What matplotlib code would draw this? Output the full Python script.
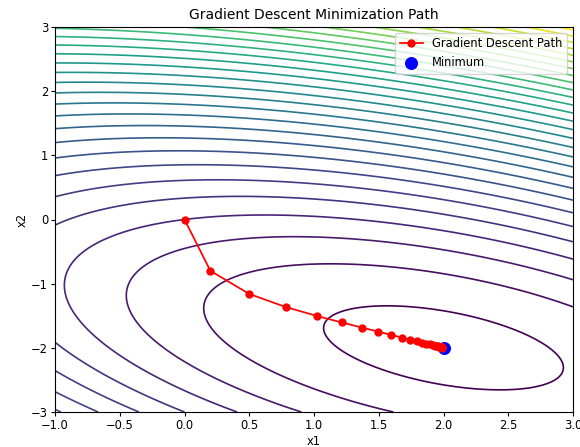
import numpy as np
import matplotlib

matplotlib.use("Agg")
import matplotlib.pyplot as plt

# Quadratic objective f(x) = 0.5 x^T A x - b^T x
A = [[3.0, 2.0], [2.0, 6.0]]
b = [2.0, -8.0]
contour_levels = list(range(-9, 76, 3))

# Gradient descent iterates
path_x1 = [0.0, 0.2, 0.5, 0.782, 1.020, 1.215, 1.371, 1.497, 1.597, 1.678, 1.742,
           1.794, 1.835, 1.868, 1.894, 1.916, 1.932, 1.946, 1.957, 1.965, 1.972,
           1.978, 1.982, 1.986, 1.989, 1.991]
path_x2 = [0.0, -0.8, -1.16, -1.364, -1.502, -1.605, -1.685, -1.748, -1.799, -1.839, -1.871,
           -1.897, -1.918, -1.934, -1.947, -1.958, -1.966, -1.973, -1.978, -1.983, -1.986,
           -1.989, -1.991, -1.993, -1.994, -1.995]
minimum = [2.0, -2.0]

x1 = np.linspace(-1, 3, 400)
x2 = np.linspace(-3, 3, 400)
X1, X2 = np.meshgrid(x1, x2)
Am = np.array(A)
Z = (0.5 * (Am[0, 0] * X1**2 + 2 * Am[0, 1] * X1 * X2 + Am[1, 1] * X2**2)
     - b[0] * X1 - b[1] * X2)

fig = plt.figure(figsize=(5.8, 4.47), dpi=100)
ax = fig.add_axes([55 / 580, 35 / 447, 518 / 580, 385 / 447])
ax.contour(X1, X2, Z, levels=contour_levels, cmap="viridis", linewidths=1.2)
ax.scatter(minimum[0], minimum[1], color="blue", s=70, label="Minimum")
ax.plot(path_x1, path_x2, "ro-", markersize=5, linewidth=1.25, label="Gradient Descent Path")

ax.set_xlim(-1, 3)
ax.set_ylim(-3, 3)
ax.set_title("Gradient Descent Minimization Path", fontsize=10)
ax.set_xlabel("x1", fontsize=8.3, labelpad=2)
ax.set_ylabel("x2", fontsize=8.3, labelpad=2)
ax.tick_params(labelsize=8.3, length=3, pad=2)

handles, labels = ax.get_legend_handles_labels()
ax.legend(handles[::-1], labels[::-1], loc="upper right", fontsize=8.3)

fig.savefig("out.png", dpi=100)
